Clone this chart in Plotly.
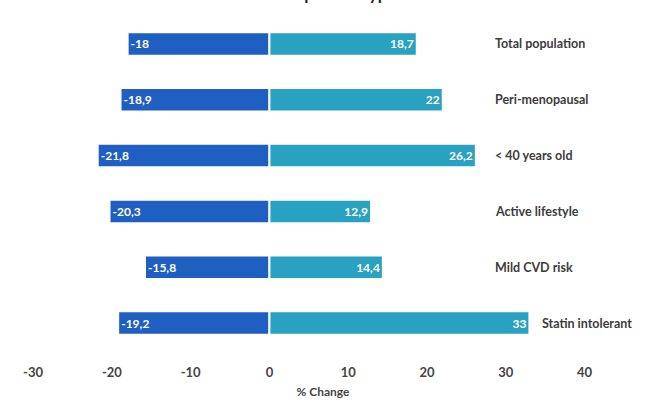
import plotly.graph_objects as go

categories = ["Total population", "Peri-menopausal", "< 40 years old",
              "Active lifestyle", "Mild CVD risk", "Statin intolerant"]
neg_values = [-18, -18.9, -21.8, -20.3, -15.8, -19.2]
pos_values = [18.7, 22, 26.2, 12.9, 14.4, 33]
x_ticks = [-30, -20, -10, 0, 10, 20, 30, 40]

def fmt(v):
    s = ("%g" % v).replace(".", ",")
    return s

FONT = "Lato, 'Open Sans', sans-serif"
fig = go.Figure()
fig.add_trace(go.Bar(
    y=categories, x=neg_values, orientation="h",
    marker=dict(color="#1f5fc2", line=dict(color="white", width=2)),
    text=[fmt(v) for v in neg_values], textposition="inside",
    insidetextanchor="end",
    textfont=dict(color="white", size=12, family=FONT, weight="bold"),
    width=0.42, showlegend=False, hoverinfo="skip"))
fig.add_trace(go.Bar(
    y=categories, x=pos_values, orientation="h",
    marker=dict(color="#28a2c0", line=dict(color="white", width=2)),
    text=[fmt(v) for v in pos_values], textposition="inside",
    insidetextanchor="end",
    textfont=dict(color="white", size=12, family=FONT, weight="bold"),
    width=0.42, showlegend=False, hoverinfo="skip"))

for c, v in zip(categories, pos_values):
    fig.add_annotation(x=max(28.4, v + 1.3), y=c, text=c, showarrow=False,
                       xanchor="left", yanchor="middle",
                       font=dict(size=12.5, color="#3c3c3c", family=FONT, weight="bold"))

fig.add_annotation(x=0.52, y=1.03, xref="paper", yref="paper",
                   text="Per patient type", showarrow=False,
                   xanchor="center", yanchor="bottom",
                   font=dict(size=17, color="#222", family=FONT, weight="bold"))

fig.update_layout(
    width=646, height=405,
    margin=dict(l=0, r=0, t=16, b=54),
    barmode="overlay",
    plot_bgcolor="white", paper_bgcolor="white",
    font=dict(family=FONT),
    xaxis=dict(range=[-34.2, 47.8], tickvals=x_ticks, ticktext=[str(t) for t in x_ticks],
               showgrid=False, zeroline=False, showline=False,
               ticklabelstandoff=12,
               tickfont=dict(size=13, color="#444", family=FONT, weight="bold"),
               title=dict(text="% Change", standoff=8,
                          font=dict(size=12, color="#444", family=FONT, weight="bold"))),
    yaxis=dict(autorange="reversed", showticklabels=False, showgrid=False,
               zeroline=False, showline=False),
)
fig.write_html("out.html")
